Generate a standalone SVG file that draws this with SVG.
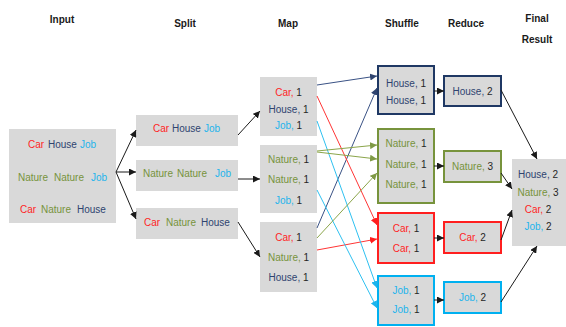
<svg xmlns="http://www.w3.org/2000/svg" width="566" height="327" viewBox="0 0 566 327">
<style>
text{font-family:"Liberation Sans",Arial,sans-serif;font-size:10px;fill:#262626}
.title{font-weight:bold;font-size:10px;text-anchor:middle;fill:#1a1a1a}
.box{fill:#D9D9D9}
.m{text-anchor:middle}
.car{fill:#FF1F1F}
.house{fill:#2F4470}
.job{fill:#1DB4EC}
.nat{fill:#77933C}
.sb{fill:#D9D9D9;stroke-width:2}
.c{fill:none;stroke-width:1}
</style>
<defs>
<marker id="ak" markerUnits="userSpaceOnUse" markerWidth="7" markerHeight="7" refX="7" refY="3.5" orient="auto"><path d="M0,0 L7,3.5 L0,7 z" fill="#1a1a1a"/></marker>
<marker id="an" markerUnits="userSpaceOnUse" markerWidth="7" markerHeight="7" refX="7" refY="3.5" orient="auto"><path d="M0,0 L7,3.5 L0,7 z" fill="#2F4470"/></marker>
<marker id="ar" markerUnits="userSpaceOnUse" markerWidth="7" markerHeight="7" refX="7" refY="3.5" orient="auto"><path d="M0,0 L7,3.5 L0,7 z" fill="#FF1F1F"/></marker>
<marker id="ac" markerUnits="userSpaceOnUse" markerWidth="7" markerHeight="7" refX="7" refY="3.5" orient="auto"><path d="M0,0 L7,3.5 L0,7 z" fill="#1DB4EC"/></marker>
<marker id="ag" markerUnits="userSpaceOnUse" markerWidth="7" markerHeight="7" refX="7" refY="3.5" orient="auto"><path d="M0,0 L7,3.5 L0,7 z" fill="#7F9A45"/></marker>
</defs>

<g id="titles">
<text class="title" x="62" y="23">Input</text>
<text class="title" x="185" y="27">Split</text>
<text class="title" x="288" y="27">Map</text>
<text class="title" x="402" y="27">Shuffle</text>
<text class="title" x="466" y="27">Reduce</text>
<text class="title" x="537" y="22">Final</text>
<text class="title" x="537" y="43">Result</text>
</g>

<g id="input">
<rect class="box" x="9" y="129" width="107" height="94"/>
<text y="147.5"><tspan class="car" x="28">Car</tspan><tspan class="house" x="48">House</tspan><tspan class="job" x="80">Job</tspan></text>
<text y="180.5"><tspan class="nat" x="18">Nature</tspan><tspan class="nat" x="54">Nature</tspan><tspan class="job" x="91">Job</tspan></text>
<text y="212.5"><tspan class="car" x="20">Car</tspan><tspan class="nat" x="41">Nature</tspan><tspan class="house" x="77">House</tspan></text>
</g>

<g id="split1">
<rect class="box" x="136" y="115" width="102" height="31"/>
<text y="131.5"><tspan class="car" x="153">Car</tspan><tspan class="house" x="172">House</tspan><tspan class="job" x="204">Job</tspan></text>
</g>
<g id="split2">
<rect class="box" x="136" y="160" width="102" height="31"/>
<text y="176.5"><tspan class="nat" x="143">Nature</tspan><tspan class="nat" x="177">Nature</tspan><tspan class="job" x="215">Job</tspan></text>
</g>
<g id="split3">
<rect class="box" x="136" y="208" width="102" height="31"/>
<text y="225.5"><tspan class="car" x="144">Car</tspan><tspan class="nat" x="166">Nature</tspan><tspan class="house" x="201">House</tspan></text>
</g>

<g id="map1">
<rect class="box" x="260" y="77" width="57" height="59"/>
<text class="m" x="288.5" y="95.5"><tspan class="car">Car,</tspan> 1</text>
<text class="m" x="288.5" y="112.5"><tspan class="house">House,</tspan> 1</text>
<text class="m" x="288.5" y="128.5"><tspan class="job">Job,</tspan> 1</text>
</g>
<g id="map2">
<rect class="box" x="260" y="145" width="57" height="68"/>
<text class="m" x="288.5" y="162.5"><tspan class="nat">Nature,</tspan> 1</text>
<text class="m" x="288.5" y="182.5"><tspan class="nat">Nature,</tspan> 1</text>
<text class="m" x="288.5" y="203.5"><tspan class="job">Job,</tspan> 1</text>
</g>
<g id="map3">
<rect class="box" x="260" y="222" width="57" height="70"/>
<text class="m" x="288.5" y="240.5"><tspan class="car">Car,</tspan> 1</text>
<text class="m" x="288.5" y="260.5"><tspan class="nat">Nature,</tspan> 1</text>
<text class="m" x="288.5" y="280.5"><tspan class="house">House,</tspan> 1</text>
</g>

<g id="shuffle1">
<rect class="sb" x="378" y="66" width="56" height="48" stroke="#1F3864"/>
<text class="m" x="406" y="86.5"><tspan class="house">House,</tspan> 1</text>
<text class="m" x="406" y="103.5"><tspan class="house">House,</tspan> 1</text>
</g>
<g id="shuffle2">
<rect class="sb" x="378" y="129" width="56" height="74" stroke="#77933C"/>
<text class="m" x="406" y="146.5"><tspan class="nat">Nature,</tspan> 1</text>
<text class="m" x="406" y="167.5"><tspan class="nat">Nature,</tspan> 1</text>
<text class="m" x="406" y="187.5"><tspan class="nat">Nature,</tspan> 1</text>
</g>
<g id="shuffle3">
<rect class="sb" x="378" y="213" width="56" height="50" stroke="#FF1F1F"/>
<text class="m" x="406" y="231.5"><tspan class="car">Car,</tspan> 1</text>
<text class="m" x="406" y="251.5"><tspan class="car">Car,</tspan> 1</text>
</g>
<g id="shuffle4">
<rect class="sb" x="378" y="276" width="56" height="49" stroke="#00B0F0"/>
<text class="m" x="406" y="293.5"><tspan class="job">Job,</tspan> 1</text>
<text class="m" x="406" y="312.5"><tspan class="job">Job,</tspan> 1</text>
</g>

<g id="reduce1">
<rect class="sb" x="444" y="76" width="57" height="30" stroke="#1F3864"/>
<text class="m" x="472.5" y="95"><tspan class="house">House,</tspan> 2</text>
</g>
<g id="reduce2">
<rect class="sb" x="444" y="151" width="57" height="31" stroke="#77933C"/>
<text class="m" x="472.5" y="170"><tspan class="nat">Nature,</tspan> 3</text>
</g>
<g id="reduce3">
<rect class="sb" x="444" y="222" width="57" height="31" stroke="#FF1F1F"/>
<text class="m" x="472.5" y="241"><tspan class="car">Car,</tspan> 2</text>
</g>
<g id="reduce4">
<rect class="sb" x="444" y="282" width="57" height="31" stroke="#00B0F0"/>
<text class="m" x="472.5" y="301"><tspan class="job">Job,</tspan> 2</text>
</g>

<g id="final">
<rect class="box" x="512" y="159" width="54" height="87"/>
<text class="m" x="538" y="177.5"><tspan class="house">House,</tspan> 2</text>
<text class="m" x="538" y="195.5"><tspan class="nat">Nature,</tspan> 3</text>
<text class="m" x="538" y="212.5"><tspan class="car">Car,</tspan> 2</text>
<text class="m" x="538" y="229.5"><tspan class="job">Job,</tspan> 2</text>
</g>

<g id="connectors">
<g stroke="#1a1a1a" class="c" marker-end="url(#ak)">
<path class="c" stroke="#1a1a1a" d="M116,172 L136,130"/>
<path class="c" stroke="#1a1a1a" d="M116,172 L136,172"/>
<path class="c" stroke="#1a1a1a" d="M116,172 L136,219"/>
<path class="c" stroke="#1a1a1a" d="M238,135 L260,111"/>
<path class="c" stroke="#1a1a1a" d="M238,179 L260,179"/>
<path class="c" stroke="#1a1a1a" d="M238,222 L260,257"/>
<path class="c" stroke="#1a1a1a" d="M434,91 L444,91"/>
<path class="c" stroke="#1a1a1a" d="M434,166 L444,166"/>
<path class="c" stroke="#1a1a1a" d="M434,238 L444,238"/>
<path class="c" stroke="#1a1a1a" d="M434,300 L444,300"/>
<path class="c" stroke="#1a1a1a" d="M501,90 L537,159"/>
<path class="c" stroke="#1a1a1a" d="M501,173 L512,189"/>
<path class="c" stroke="#1a1a1a" d="M501,240 L512,210"/>
<path class="c" stroke="#1a1a1a" d="M501,302 L537,246"/>
</g>
<g class="c" stroke="#3A5285" marker-end="url(#an)">
<path class="c" stroke="#3A5285" d="M317,85 L377,76"/>
<path class="c" stroke="#3A5285" d="M317,228 L377,88"/>
</g>
<g class="c" stroke="#FF3535" marker-end="url(#ar)">
<path class="c" stroke="#FF3535" d="M317,96 L377,225"/>
<path class="c" stroke="#FF3535" d="M317,250 L377,239"/>
</g>
<g class="c" stroke="#2EC0F0" marker-end="url(#ac)">
<path class="c" stroke="#2EC0F0" d="M317,121 L377,288"/>
<path class="c" stroke="#2EC0F0" d="M317,190 L377,308"/>
</g>
<g class="c" stroke="#8BA54A" marker-end="url(#ag)">
<path class="c" stroke="#8BA54A" d="M317,151 L377,145"/>
<path class="c" stroke="#8BA54A" d="M317,152 L377,159"/>
<path class="c" stroke="#8BA54A" d="M317,238 L377,173"/>
</g>
</g>
</svg>
